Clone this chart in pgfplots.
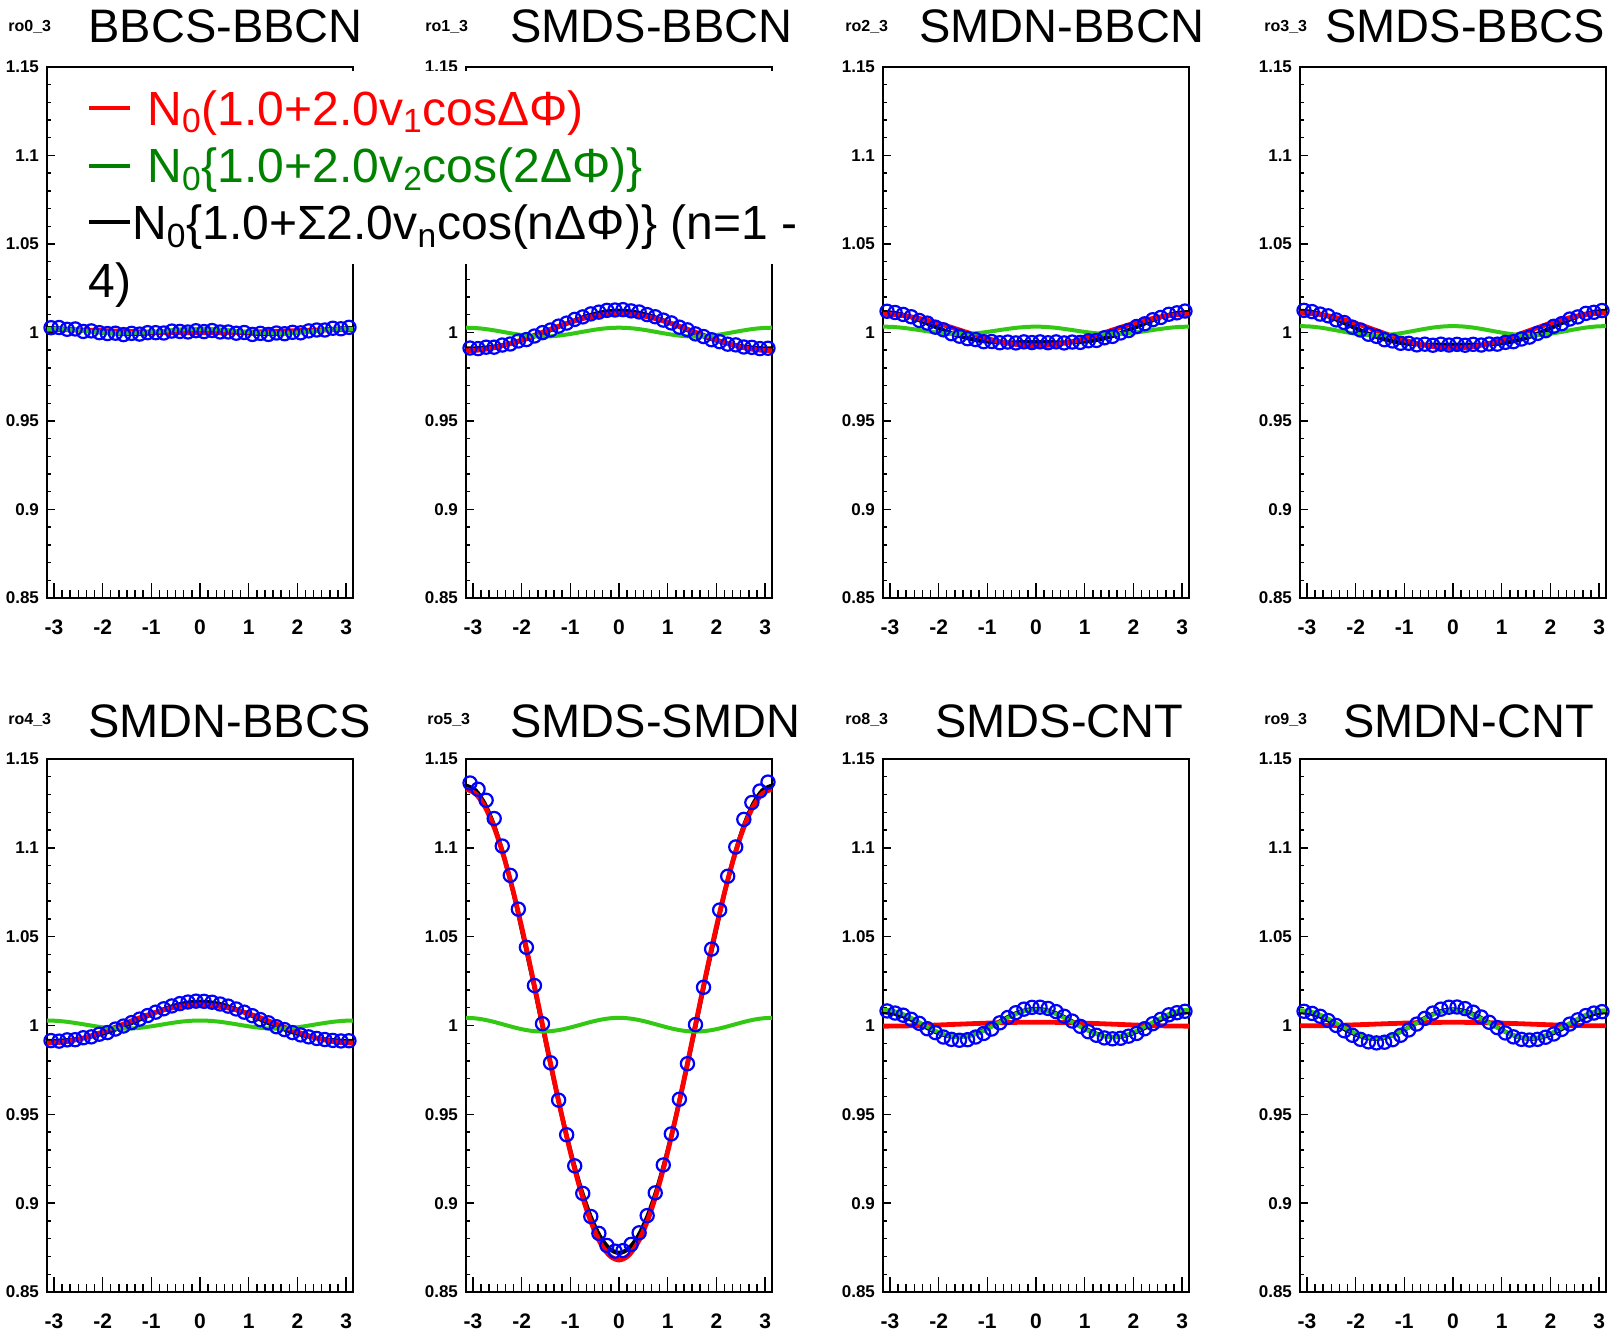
\documentclass[border=0pt]{standalone}
\usepackage{fontspec}
\setmainfont{Liberation Sans}
\usepackage{pgfplots}
\usepackage{pgfplotstable}
\pgfplotsset{compat=1.18}
\definecolor{rootred}{RGB}{255,0,0}
\definecolor{rootgreen}{RGB}{51,200,20}
\definecolor{legendgreen}{RGB}{0,130,0}
\definecolor{rootblue}{RGB}{0,0,255}

\pgfplotstableread{
x r1 g1 b1 r2 g2 b2 r3 g3 b3 r4 g4 b4 r5 g5 b5 r6 g6 b6 r7 g7 b7 r8 g8 b8
-3.1416 1.0016 1.0021 1.0024 0.9897 1.0027 0.9909 1.0103 1.0033 1.0115 1.0110 1.0036 1.0122 0.9901 1.0028 0.99125 1.1330 1.0043 1.1350 0.99965 1.0089 1.0075 0.9998 1.0086 1.0075
-2.9452 1.00158 1.0020 1.0023 0.9899 1.00251 0.99103 1.01013 1.00314 1.01115 1.01081 1.0034 1.01182 0.99031 1.00262 0.99136 1.13046 1.00401 1.13232 0.99967 1.00831 1.00695 0.99982 1.0080 1.00692
-2.7489 1.00153 1.00172 1.0020 0.9905 1.00197 0.99141 1.00962 1.00268 1.01012 1.01025 1.00284 1.01073 0.99092 1.00213 0.99168 1.12291 1.00317 1.1244 0.99973 1.00664 1.00539 0.99988 1.00629 1.00526
-2.5525 1.00145 1.0013 1.00156 0.99146 1.00116 0.99206 1.0088 1.0020 1.00852 1.00933 1.0020 1.00902 0.99191 1.00138 0.99225 1.11067 1.00192 1.1116 0.99984 1.00415 1.00315 0.99997 1.00372 1.00278
-2.3562 1.00134 1.0008 1.00102 0.99276 1.0002 0.99298 1.00769 1.0012 1.00651 1.0081 1.0010 1.00685 0.99325 1.0005 0.99309 1.09419 1.00045 1.09449 0.99997 1.0012 1.00031 1.00009 1.0007 0.99987
-2.1598 1.0012 1.0003 1.00045 0.99434 0.99924 0.9942 1.00635 1.0004 1.00427 1.0066 1.00001 1.00443 0.99488 0.99962 0.99423 1.07411 0.99898 1.07379 1.00014 0.99825 0.9976 1.00024 0.99768 0.99698
-1.9635 1.00104 0.99988 0.99994 0.99615 0.99843 0.99571 1.00481 0.99972 1.00199 1.00489 0.99916 1.00195 0.99674 0.99887 0.99568 1.0512 0.99773 1.04991 1.00033 0.99576 0.99534 1.00042 0.99511 0.99456
-1.7671 1.00088 0.9996 0.99954 0.99811 0.99789 0.99749 1.00314 0.99926 0.99985 1.00303 0.9986 0.99961 0.99875 0.99838 0.99745 1.02635 0.99689 1.02531 1.00054 0.99409 0.99389 1.0006 0.9934 0.993
-1.5708 1.0007 0.9995 0.9993 1.00015 0.9977 0.9995 1.0014 0.9991 0.998 1.0011 0.9984 0.99755 1.00085 0.9982 0.9995 1.0005 0.9966 0.9995 1.00075 0.9935 0.9935 1.0008 0.9928 0.99255
-1.3744 1.00052 0.9996 0.99923 1.00219 0.99789 1.00167 0.99966 0.99926 0.99653 0.99917 0.9986 0.99588 1.00295 0.99838 1.00176 0.97465 0.99689 0.974 1.00096 0.99409 0.99424 1.001 0.9934 0.99329
-1.1781 1.00036 0.99988 0.99933 1.00415 0.99843 1.0039 0.99799 0.99972 0.99548 0.99731 0.99916 0.99464 1.00496 0.99887 1.00414 0.9498 0.99773 0.94976 1.00117 0.99576 0.99603 1.00118 0.99511 0.99514
-0.9817 1.0002 1.0003 0.99957 1.00596 0.99924 1.00609 0.99646 1.0004 0.99482 0.9956 1.00001 0.99382 1.00682 0.99962 1.0065 0.92689 0.99898 0.92768 1.00136 0.99825 0.9986 1.00136 0.99768 0.99781
-0.7854 1.00006 1.0008 0.99988 1.00754 1.0002 1.00812 0.99511 1.0012 0.99449 0.9941 1.0010 0.99335 1.00845 1.0005 1.00871 0.90681 1.00045 0.90852 1.00153 1.0012 1.00159 1.00151 1.0007 1.00093
-0.5890 0.99995 1.0013 1.00023 1.00884 1.00116 1.00985 0.994 1.0020 0.99439 0.99287 1.0020 0.99314 1.00979 1.00138 1.01062 0.89033 1.00192 0.89293 1.00166 1.00415 1.00455 1.00163 1.00372 1.00403
-0.3927 0.99987 1.00172 1.00052 1.0098 1.00197 1.01118 0.99318 1.00268 0.99442 0.99195 1.00284 0.99308 1.01078 1.00213 1.0121 0.87809 1.00317 0.88142 1.00177 1.00664 1.00705 1.00172 1.00629 1.00664
-0.1963 0.99982 1.0020 1.00073 1.0104 1.00251 1.01201 0.99267 1.00314 0.99447 0.99139 1.0034 0.99309 1.01139 1.00262 1.01303 0.87055 1.00401 0.87437 1.00183 1.00831 1.00872 1.00178 1.0080 1.00839
0 0.9998 1.0021 1.0008 1.0106 1.0027 1.0123 0.9925 1.0033 0.9945 0.9912 1.0036 0.9931 1.0116 1.0028 1.01335 0.868 1.0043 0.872 1.00185 1.0089 1.0093 1.0018 1.0086 1.009
0.1963 0.99982 1.0020 1.00073 1.0104 1.00251 1.01201 0.99267 1.00314 0.99447 0.99139 1.0034 0.99309 1.01139 1.00262 1.01303 0.87055 1.00401 0.87437 1.00183 1.00831 1.00872 1.00178 1.0080 1.00839
0.3927 0.99987 1.00172 1.00052 1.0098 1.00197 1.01118 0.99318 1.00268 0.99442 0.99195 1.00284 0.99308 1.01078 1.00213 1.0121 0.87809 1.00317 0.88142 1.00177 1.00664 1.00705 1.00172 1.00629 1.00664
0.5890 0.99995 1.0013 1.00023 1.00884 1.00116 1.00985 0.994 1.0020 0.99439 0.99287 1.0020 0.99314 1.00979 1.00138 1.01062 0.89033 1.00192 0.89293 1.00166 1.00415 1.00455 1.00163 1.00372 1.00403
0.7854 1.00006 1.0008 0.99988 1.00754 1.0002 1.00812 0.99511 1.0012 0.99449 0.9941 1.0010 0.99335 1.00845 1.0005 1.00871 0.90681 1.00045 0.90852 1.00153 1.0012 1.00159 1.00151 1.0007 1.00093
0.9817 1.0002 1.0003 0.99957 1.00596 0.99924 1.00609 0.99646 1.0004 0.99482 0.9956 1.00001 0.99382 1.00682 0.99962 1.0065 0.92689 0.99898 0.92768 1.00136 0.99825 0.9986 1.00136 0.99768 0.99781
1.1781 1.00036 0.99988 0.99933 1.00415 0.99843 1.0039 0.99799 0.99972 0.99548 0.99731 0.99916 0.99464 1.00496 0.99887 1.00414 0.9498 0.99773 0.94976 1.00117 0.99576 0.99603 1.00118 0.99511 0.99514
1.3744 1.00052 0.9996 0.99923 1.00219 0.99789 1.00167 0.99966 0.99926 0.99653 0.99917 0.9986 0.99588 1.00295 0.99838 1.00176 0.97465 0.99689 0.974 1.00096 0.99409 0.99424 1.001 0.9934 0.99329
1.5708 1.0007 0.9995 0.9993 1.00015 0.9977 0.9995 1.0014 0.9991 0.998 1.0011 0.9984 0.99755 1.00085 0.9982 0.9995 1.0005 0.9966 0.9995 1.00075 0.9935 0.9935 1.0008 0.9928 0.99255
1.7671 1.00088 0.9996 0.99954 0.99811 0.99789 0.99749 1.00314 0.99926 0.99985 1.00303 0.9986 0.99961 0.99875 0.99838 0.99745 1.02635 0.99689 1.02531 1.00054 0.99409 0.99389 1.0006 0.9934 0.993
1.9635 1.00104 0.99988 0.99994 0.99615 0.99843 0.99571 1.00481 0.99972 1.00199 1.00489 0.99916 1.00195 0.99674 0.99887 0.99568 1.0512 0.99773 1.04991 1.00033 0.99576 0.99534 1.00042 0.99511 0.99456
2.1598 1.0012 1.0003 1.00045 0.99434 0.99924 0.9942 1.00635 1.0004 1.00427 1.0066 1.00001 1.00443 0.99488 0.99962 0.99423 1.07411 0.99898 1.07379 1.00014 0.99825 0.9976 1.00024 0.99768 0.99698
2.3562 1.00134 1.0008 1.00102 0.99276 1.0002 0.99298 1.00769 1.0012 1.00651 1.0081 1.0010 1.00685 0.99325 1.0005 0.99309 1.09419 1.00045 1.09449 0.99997 1.0012 1.00031 1.00009 1.0007 0.99987
2.5525 1.00145 1.0013 1.00156 0.99146 1.00116 0.99206 1.0088 1.0020 1.00852 1.00933 1.0020 1.00902 0.99191 1.00138 0.99225 1.11067 1.00192 1.1116 0.99984 1.00415 1.00315 0.99997 1.00372 1.00278
2.7489 1.00153 1.00172 1.0020 0.9905 1.00197 0.99141 1.00962 1.00268 1.01012 1.01025 1.00284 1.01073 0.99092 1.00213 0.99168 1.12291 1.00317 1.1244 0.99973 1.00664 1.00539 0.99988 1.00629 1.00526
2.9452 1.00158 1.0020 1.0023 0.9899 1.00251 0.99103 1.01013 1.00314 1.01115 1.01081 1.0034 1.01182 0.99031 1.00262 0.99136 1.13046 1.00401 1.13232 0.99967 1.00831 1.00695 0.99982 1.0080 1.00692
3.1416 1.0016 1.0021 1.0024 0.9897 1.0027 0.9909 1.0103 1.0033 1.0115 1.0110 1.0036 1.0122 0.9901 1.0028 0.99125 1.1330 1.0043 1.1350 0.99965 1.0089 1.0075 0.9998 1.0086 1.0075
}\curves

\pgfplotstableread{
x c1 c2 c3 c4 c5 c6 c7 c8
-3.0589 1.0027 0.9912 1.0120 1.0125 0.9915 1.1365 1.0082 1.0080
-2.8936 1.0028 0.9909 1.0113 1.0118 0.9912 1.1330 1.0070 1.0068
-2.7282 1.0018 0.9917 1.0102 1.0104 0.9919 1.1268 1.0058 1.0052
-2.5629 1.0020 0.9917 1.0089 1.0094 0.9920 1.1165 1.0035 1.0028
-2.3975 1.0006 0.9929 1.0068 1.0071 0.9931 1.1010 1.0012 1.0000
-2.2322 1.0009 0.9935 1.0053 1.0056 0.9936 1.0845 0.9982 0.9970
-2.0668 0.9999 0.9952 1.0030 1.0030 0.9951 1.0655 0.9960 0.9945
-1.9015 0.9994 0.9960 1.0015 1.0014 0.9960 1.0440 0.9935 0.9922
-1.7361 0.9996 0.9980 0.9993 0.9990 0.9980 1.0225 0.9922 0.9908
-1.5708 0.9988 0.9999 0.9979 0.9978 0.9997 1.0010 0.9917 0.9902
-1.4055 0.9995 1.0014 0.9965 0.9959 1.0016 0.9790 0.9920 0.9906
-1.2401 0.9991 1.0036 0.9960 0.9952 1.0036 0.9580 0.9935 0.9920
-1.0748 0.9999 1.0053 0.9948 0.9939 1.0056 0.9385 0.9955 0.9945
-0.9094 0.9999 1.0074 0.9949 0.9939 1.0075 0.9210 0.9980 0.9975
-0.7441 0.9997 1.0088 0.9942 0.9930 1.0094 0.9055 1.0015 1.0008
-0.5787 1.0008 1.0105 0.9946 0.9934 1.0110 0.8925 1.0045 1.0040
-0.4134 1.0006 1.0115 0.9941 0.9928 1.0123 0.8830 1.0072 1.0070
-0.2480 1.0003 1.0125 0.9947 0.9934 1.0132 0.8762 1.0092 1.0092
-0.0827 1.0010 1.0127 0.9943 0.9929 1.0137 0.8730 1.0102 1.0103
0.0827 1.0005 1.0129 0.9947 0.9933 1.0136 0.8733 1.0103 1.0104
0.2480 1.0011 1.0122 0.9942 0.9928 1.0131 0.8768 1.0096 1.0095
0.4134 1.0003 1.0116 0.9947 0.9933 1.0121 0.8833 1.0078 1.0075
0.5787 1.0003 1.0101 0.9941 0.9929 1.0109 0.8930 1.0052 1.0048
0.7441 0.9996 1.0089 0.9946 0.9935 1.0093 0.9058 1.0025 1.0018
0.9094 1.0000 1.0070 0.9944 0.9934 1.0075 0.9215 0.9995 0.9988
1.0748 0.9989 1.0054 0.9953 0.9944 1.0055 0.9390 0.9965 0.9958
1.2401 0.9995 1.0030 0.9955 0.9948 1.0033 0.9585 0.9945 0.9936
1.4055 0.9989 1.0015 0.9970 0.9963 1.0015 0.9785 0.9930 0.9922
1.5708 0.9997 0.9992 0.9978 0.9974 0.9993 1.0005 0.9925 0.9918
1.7361 0.9993 0.9977 0.9997 0.9995 0.9977 1.0215 0.9928 0.9922
1.9015 1.0001 0.9959 1.0011 1.0010 0.9960 1.0430 0.9940 0.9934
2.0668 0.9998 0.9948 1.0034 1.0035 0.9947 1.0650 0.9955 0.9952
2.2322 1.0009 0.9934 1.0049 1.0050 0.9936 1.0840 0.9982 0.9978
2.3975 1.0014 0.9930 1.0072 1.0076 0.9927 1.1005 1.0010 1.0008
2.5629 1.0014 0.9918 1.0085 1.0088 0.9921 1.1160 1.0035 1.0032
2.7282 1.0024 0.9916 1.0103 1.0108 0.9916 1.1255 1.0060 1.0056
2.8936 1.0021 0.9909 1.0111 1.0114 0.9913 1.1320 1.0072 1.0070
3.0589 1.0029 0.9911 1.0121 1.0124 0.9914 1.1370 1.0080 1.0078
}\points

\pgfplotsset{
 panel/.style={
  scale only axis, width=153pt, height=265.5pt,
  anchor=south west,
  xmin=-3.1416, xmax=3.1416, ymin=0.85, ymax=1.15,
  xtick={-3,-2,-1,0,1,2,3}, xticklabels={-3,-2,-1,0,1,2,3},
  ytick={0.85,0.9,0.95,1,1.05,1.1,1.15},
  yticklabels={0.85,0.9,0.95,1,1.05,1.1,1.15},
  minor x tick num=5, minor y tick num=4,
  tick pos=left, tick align=inside,
  xtick style={/pgfplots/major tick length=7.5pt, /pgfplots/minor tick length=3.8pt, line width=0.7pt, black},
  ytick style={/pgfplots/major tick length=4pt, /pgfplots/minor tick length=2pt, line width=0.7pt, black},
  axis line style={line width=0.9pt},
  xticklabel style={font=\bfseries\fontsize{10.5}{11}\selectfont, yshift=-7.3pt},
  yticklabel style={font=\bfseries\fontsize{8.5}{9}\selectfont, xshift=-0.5pt},
  clip=false,
 },
 dat/.style={only marks, mark=o, mark size=3.3pt, color=rootblue, mark options={line width=1.1pt}},
 blk/.style={black, line width=2.1pt, smooth, no markers},
 rdc/.style={rootred, line width=2.4pt, smooth, no markers},
 grc/.style={rootgreen, line width=2pt, smooth, no markers},
}

\newcommand{\panelplots}[1]{%
 \addplot[dat] table[x=x,y=c#1]{\points};
 \addplot[blk] table[x=x,y=b#1]{\curves};
 \addplot[rdc] table[x=x,y=r#1]{\curves};
 \addplot[grc] table[x=x,y=g#1]{\curves};
}

\begin{document}
\begin{tikzpicture}
\useasboundingbox (0,0) rectangle (806.5pt,666.5pt);

\begin{axis}[panel, at={(23.5pt,367.5pt)}]
\panelplots{1}
\end{axis}
% the legend box hides this panel's 1.1 and 1.05 labels
\begin{axis}[panel, at={(233pt,367.5pt)}, yticklabels={0.85,0.9,0.95,1,{},{},1.15}]
\panelplots{2}
\end{axis}
\begin{axis}[panel, at={(441.5pt,367.5pt)}]
\panelplots{3}
\end{axis}
\begin{axis}[panel, at={(650pt,367.5pt)}]
\panelplots{4}
\end{axis}

\begin{axis}[panel, height=266.5pt, at={(23.5pt,20.5pt)}]
\panelplots{5}
\end{axis}
\begin{axis}[panel, height=266.5pt, at={(233pt,20.5pt)}]
\panelplots{6}
\end{axis}
\begin{axis}[panel, height=266.5pt, at={(441.5pt,20.5pt)}]
\panelplots{7}
\end{axis}
\begin{axis}[panel, height=266.5pt, at={(650pt,20.5pt)}]
\panelplots{8}
\end{axis}

% panel titles
\begin{scope}[every node/.style={anchor=base west, inner sep=0pt, font=\fontsize{23.5}{26}\selectfont}]
\node at (44pt,645pt) {BBCS-BBCN};
\node at (255pt,645pt) {SMDS-BBCN};
\node at (459.5pt,645pt) {SMDN-BBCN};
\node at (662.5pt,645pt) {SMDS-BBCS};
\node at (44pt,297.5pt) {SMDN-BBCS};
\node at (255pt,297.5pt) {SMDS-SMDN};
\node at (467.5pt,297.5pt) {SMDS-CNT};
\node at (671.5pt,297.5pt) {SMDN-CNT};
\end{scope}
\begin{scope}[every node/.style={anchor=base west, inner sep=0pt, font=\bfseries\fontsize{8}{9}\selectfont}]
\node at (4pt,650.5pt) {ro0\_3};
\node at (212.5pt,650.5pt) {ro1\_3};
\node at (422.5pt,650.5pt) {ro2\_3};
\node at (632pt,650.5pt) {ro3\_3};
\node at (4pt,304pt) {ro4\_3};
\node at (213.5pt,304pt) {ro5\_3};
\node at (422.5pt,304pt) {ro8\_3};
\node at (632pt,304pt) {ro9\_3};
\end{scope}

% legend
\fill[white] (31pt,534.5pt) rectangle (401pt,631pt);
\begin{scope}[every node/.style={anchor=base west, inner sep=0pt, font=\fontsize{24}{28}\selectfont}]
\draw[rootred, line width=2pt] (44.25pt,612.5pt) -- (64.8pt,612.5pt);
\node[text=rootred] at (73.5pt,603.75pt) {N\textsubscript{0}(1.0+2.0v\textsubscript{1}cosΔΦ)};
\draw[legendgreen, line width=2pt] (44.25pt,583.7pt) -- (64.8pt,583.7pt);
\node[text=legendgreen] at (73.5pt,575pt) {N\textsubscript{0}\{1.0+2.0v\textsubscript{2}cos(2ΔΦ)\}};
\draw[black, line width=2pt] (44.25pt,555.5pt) -- (64.8pt,555.5pt);
\node at (65.85pt,546.5pt) {N\textsubscript{0}\{1.0+Σ2.0v\textsubscript{n}cos(nΔΦ)\} (n=1 -};
\node at (44.25pt,517.5pt) {4)};
\end{scope}
\end{tikzpicture}
\end{document}
